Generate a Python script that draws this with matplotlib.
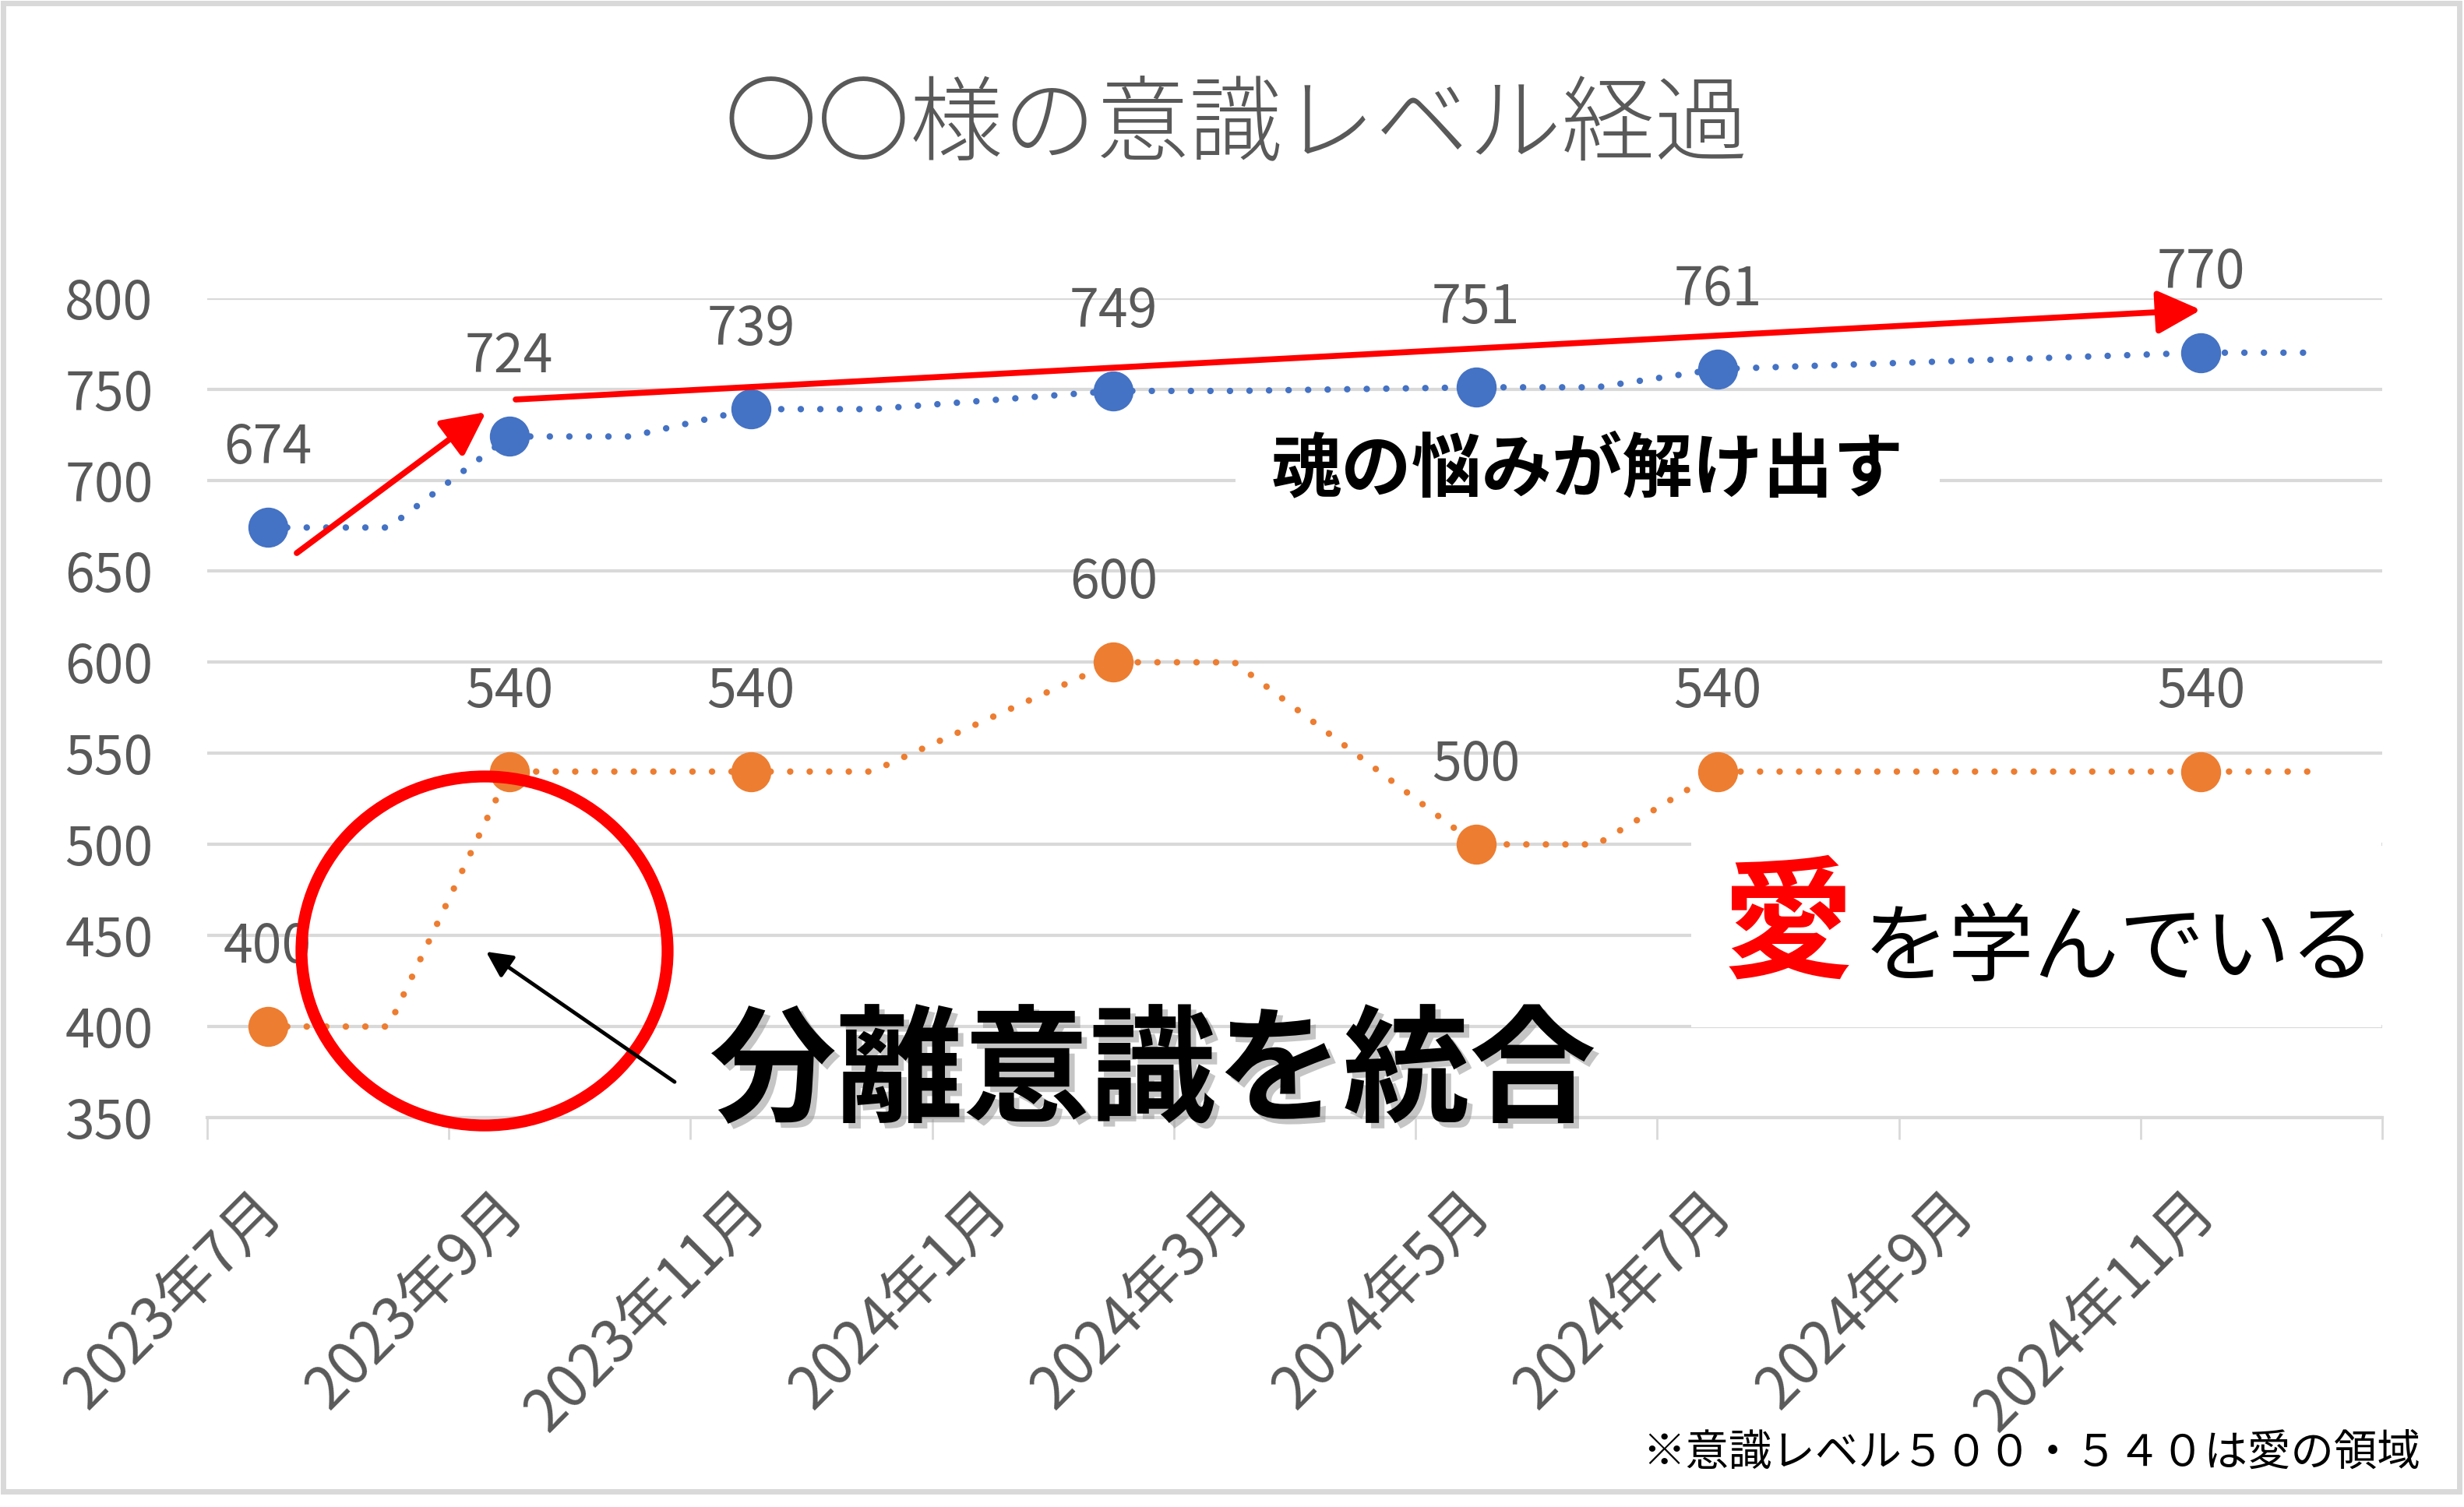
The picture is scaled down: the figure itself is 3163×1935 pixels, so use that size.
import matplotlib
matplotlib.use("Agg")
import matplotlib.pyplot as plt
import matplotlib.patheffects as pe
from matplotlib.patches import Ellipse, Rectangle
from matplotlib.transforms import Affine2D, blended_transform_factory, offset_copy

# monthly values from 2023年7月 (index 0) to 2024年12月 (index 17); None = no entry
blue_values = [674, 674, 724, 724, 739, 739, None, 749, 749, None,
               751, 751, 761, None, None, None, 770, 770]
orange_values = [400, 400, 540, 540, 540, 540, None, 600, 600, None,
                 500, 500, 540, 540, 540, 540, 540, 540]
# months that carry a marker and a value label
measured_months = [0, 2, 4, 7, 10, 12, 16]
tick_labels = ["2023年7月", "2023年9月", "2023年11月", "2024年1月", "2024年3月",
               "2024年5月", "2024年7月", "2024年9月", "2024年11月"]
y_ticks = list(range(350, 801, 50))

BLUE = "#4472C4"
ORANGE = "#ED7D31"
GRAY_TEXT = "#595959"
GRID = "#D9D9D9"
RED = "#FF0000"

W, H = 3163, 1935
plt.rcParams["font.family"] = ["Noto Sans CJK JP", "DejaVu Sans"]
fig = plt.figure(figsize=(W / 100, H / 100), dpi=100)
px = Affine2D().scale(1, -1).translate(0, H)  # image pixels, y down

ax = fig.add_axes([266 / W, 1 - 1435 / H, (3058 - 266) / W, (1435 - 382.7) / H])
ax.set_xlim(0, 18)
ax.set_ylim(350, 800)

ax.set_yticks(y_ticks)
ax.yaxis.grid(True, color=GRID, lw=3)
ax.set_axisbelow(True)
ax.tick_params(axis="y", length=0, pad=50, labelsize=49, labelcolor=GRAY_TEXT)
ax.set_xticks(range(0, 19, 2))
ax.set_xticklabels([])
ax.tick_params(axis="x", length=20, width=2, color=GRID, direction="out")
for side in ("left", "right", "top"):
    ax.spines[side].set_visible(False)
ax.spines["bottom"].set_color(GRID)
ax.spines["bottom"].set_linewidth(3)

# rotated month labels, centred on each labelled month
lab_trans = offset_copy(blended_transform_factory(ax.transData, ax.transAxes),
                        fig=fig, x=6, y=-108, units="dots")
for k, lab in enumerate(tick_labels):
    ax.text(2 * k + 0.5, 0, lab, transform=lab_trans, rotation=45,
            rotation_mode="anchor", ha="right", va="center",
            fontsize=54, color=GRAY_TEXT)

# white boxes behind the comments
ax.add_patch(Rectangle((1586, 560), 904, 120, transform=px, clip_on=False,
                       fc="white", ec="none", zorder=1))
ax.add_patch(Rectangle((2171, 1030), 886, 289, transform=px, clip_on=False,
                       fc="white", ec="none", zorder=1))

for values, color in ((blue_values, BLUE), (orange_values, ORANGE)):
    xs = [i + 0.5 for i, v in enumerate(values) if v is not None]
    ys = [v for v in values if v is not None]
    ax.plot(xs, ys, color=color, lw=6, linestyle=(0, (0.01, 3.0)),
            dash_capstyle="round", zorder=3)
    mx = [m + 0.5 for m in measured_months]
    my = [values[m] for m in measured_months]
    ax.plot(mx, my, "o", ms=36, color=color, zorder=4)
    for x, y in zip(mx, my):
        ax.annotate(f"{y}", (x, y), xytext=(0, 73), textcoords="offset points",
                    ha="center", va="center", fontsize=49, color=GRAY_TEXT,
                    zorder=5)

# red arrows along the blue trend
ax.annotate("", xy=(2.308, 737.4), xytext=(0.741, 660),
            arrowprops=dict(arrowstyle="-|>,head_length=0.4,head_width=0.2",
                            mutation_scale=85, lw=5.5, color=RED,
                            shrinkA=0, shrinkB=0), zorder=6)
ax.annotate("", xy=(16.5, 793.5), xytext=(2.553, 744.3),
            arrowprops=dict(arrowstyle="-|>,head_length=0.4,head_width=0.2",
                            mutation_scale=85, lw=5.5, color=RED,
                            shrinkA=0, shrinkB=0), zorder=6)

# circle around the 400 -> 540 jump and its pointer
ax.add_patch(Ellipse((2.295, 441.5), 3.03, 191.6, fill=False, ec=RED, lw=11,
                     clip_on=False, zorder=6))
ax.annotate("", xy=(2.308, 441.1), xytext=(3.868, 369.6),
            arrowprops=dict(arrowstyle="-|>,head_length=0.4,head_width=0.2",
                            mutation_scale=50, lw=3.5, color="black",
                            shrinkA=0, shrinkB=0), zorder=6)

fig.text(1587, 164, "〇〇様の意識レベル経過", transform=px, ha="center",
         va="center", fontsize=86, color=GRAY_TEXT, fontweight="light")
ax.text(2038, 604, "魂の悩みが解け出す", transform=px, ha="center", va="center",
        fontsize=65, fontweight="bold", color="black", zorder=7)
ax.text(1480, 1380, "分離意識を統合", transform=px, ha="center", va="center",
        fontsize=117, fontweight="bold", color="black", zorder=7,
        path_effects=[pe.withSimplePatchShadow(offset=(5, -5),
                                               shadow_rgbFace="#8c8c8c",
                                               alpha=0.5)])
ax.text(2295, 1192, "愛", transform=px, ha="center", va="center",
        fontsize=122, fontweight="bold", color=RED, zorder=7)
ax.text(2392, 1220, "を学んでいる", transform=px, ha="left", va="center",
        fontsize=79, color="black", zorder=7)
fig.text(3107, 1866, "※意識レベル５００・５４０は愛の領域", transform=px,
         ha="right", va="center", fontsize=40, color="black")

fig.add_artist(Rectangle((3.5, 3.5), 3153, 1911, transform=px, fill=False,
                         ec=GRID, lw=5))

fig.savefig("out.png", dpi=100, facecolor="white")
